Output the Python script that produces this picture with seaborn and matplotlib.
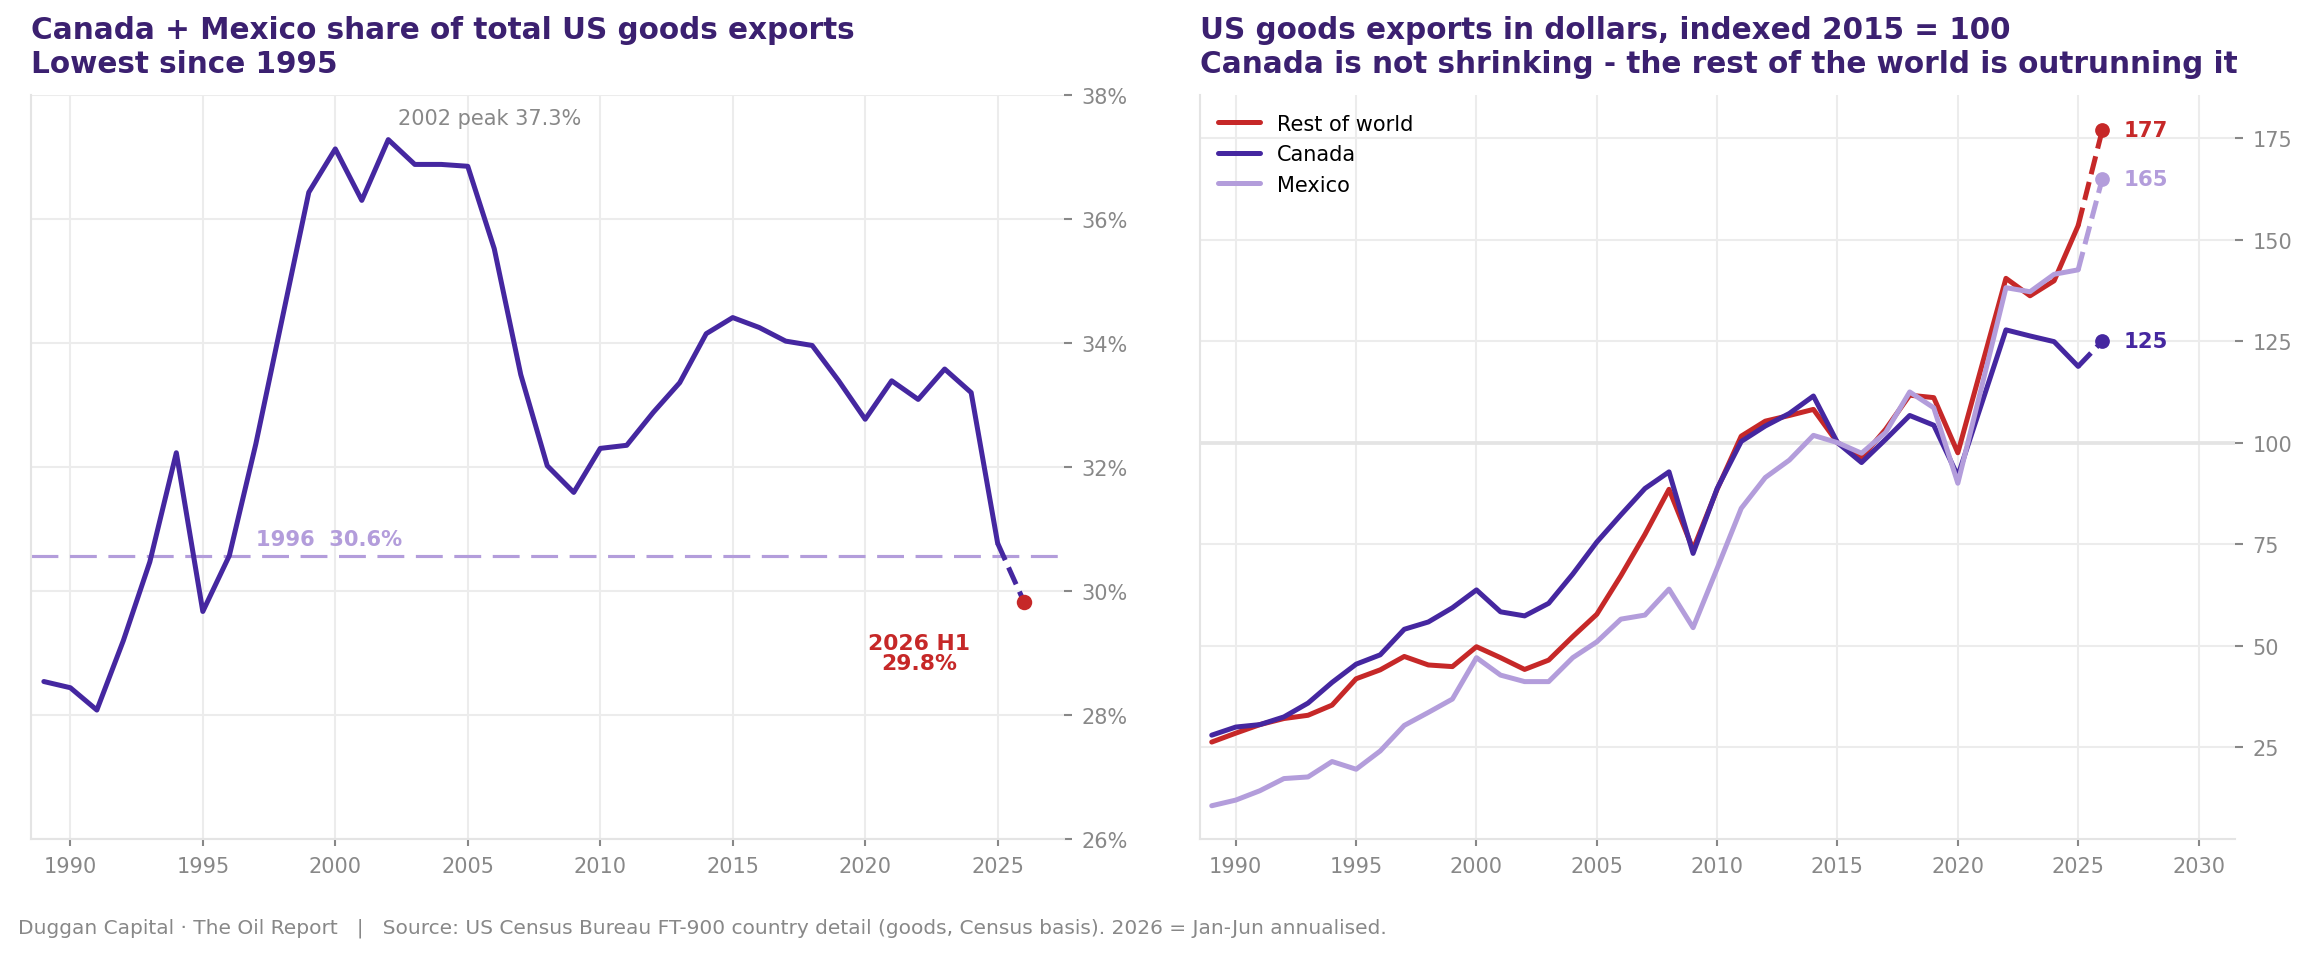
import numpy as np
import pandas as pd
import matplotlib
matplotlib.use('Agg')
import matplotlib.pyplot as plt
import seaborn as sns

years = list(range(1989, 2027))

# Canada + Mexico share of total US goods exports, %
share = [28.54, 28.44, 28.08, 29.2, 30.47, 32.23, 29.67, 30.57, 32.37, 34.4,
         36.43, 37.13, 36.30, 37.28, 36.88, 36.88, 36.85, 35.52, 33.49, 32.02,
         31.59, 32.30, 32.35, 32.88, 33.36, 34.15, 34.41, 34.25, 34.03, 33.96,
         33.39, 32.77, 33.39, 33.09, 33.58, 33.20, 30.77, 29.82]

# goods exports indexed 2015 = 100
rest_of_world = [26.2, 28.4, 30.5, 32.0, 32.8, 35.3, 41.8, 44.0, 47.3, 45.2,
                 44.8, 49.7, 47.0, 44.1, 46.4, 52.2, 57.7, 67.2, 77.4, 88.5,
                 73.7, 88.5, 101.6, 105.3, 106.7, 108.2, 100.0, 96.3, 103.3, 111.7,
                 111.1, 97.5, 119.0, 140.5, 136.2, 139.9, 153.5, 177.0]
canada = [27.9, 29.9, 30.5, 32.4, 35.8, 40.9, 45.4, 47.7, 54.0, 55.8,
          59.3, 63.7, 58.3, 57.3, 60.4, 67.6, 75.5, 82.2, 88.7, 92.8,
          72.7, 88.7, 100.3, 104.1, 107.2, 111.5, 100.0, 95.1, 100.8, 106.7,
          104.3, 91.8, 109.8, 127.8, 126.3, 124.9, 118.8, 125.0]
mexico = [10.5, 11.9, 14.2, 17.2, 17.6, 21.4, 19.5, 24.0, 30.3, 33.5,
          36.8, 47.0, 42.7, 41.1, 41.1, 47.0, 50.9, 56.5, 57.5, 63.9,
          54.4, 69.0, 83.8, 91.4, 95.7, 101.8, 100.0, 97.4, 102.5, 112.5,
          108.6, 90.0, 114.0, 138.2, 137.2, 141.5, 142.6, 165.0]

series_names = ['Rest of world', 'Canada', 'Mexico']

DARK = '#4527a0'
LIGHT = '#b39ddb'
RED = '#c62828'
TITLE = '#3b2070'
GREY = '#888888'
GRID = '#ececec'
SPINE = '#e4e4e4'
colors = {'Rest of world': RED, 'Canada': DARK, 'Mexico': LIGHT}

sns.set_theme(style='whitegrid')
plt.rcParams['font.family'] = ['DejaVu Sans']

fig = plt.figure(figsize=(2308 / 150, 955 / 150), dpi=150)
ax1 = fig.add_axes([0.01326, 0.1204, 0.4477, 0.7791])
ax2 = fig.add_axes([0.5198, 0.1204, 0.4484, 0.7791])

# ---- left: share ----
df_share = pd.DataFrame({'year': years, 'share': share})
solid = df_share[df_share.year <= 2025]
tail = df_share[df_share.year >= 2025]
sns.lineplot(data=solid, x='year', y='share', ax=ax1, color=DARK, lw=2.4, zorder=3)
sns.lineplot(data=tail, x='year', y='share', ax=ax1, color=DARK, lw=2.4,
             linestyle='--', zorder=3)
last = tail.iloc[-1]
ax1.scatter([last.year], [last.share], s=55, color=RED, zorder=4, linewidths=0)

v96 = share[years.index(1996)]
ax1.axhline(v96, color=LIGHT, lw=1.5, linestyle=(0, (8.6, 3.7)), zorder=2)
ax1.text(1997, v96 + 0.11, f'1996  {v96:.1f}%', color=LIGHT, fontsize=10.1,
         fontweight='bold', ha='left', va='bottom')

peak_i = int(np.argmax(share))
ax1.text(2002.35, 37.53, f'{years[peak_i]} peak {share[peak_i]:.1f}%', color=GREY,
         fontsize=10, ha='left', va='baseline')
ax1.text(2022.05, 29.0, f'{int(last.year)} H1\n{last.share:.1f}%', color=RED,
         fontsize=10.5, fontweight='bold', ha='center', va='center',
         multialignment='center', linespacing=1.05)

ax1.set_xlim(1988.5, 2027.5)
ax1.set_ylim(26, 38)
ax1.set_xticks(range(1990, 2026, 5))
ax1.set_yticks(range(26, 39, 2))
ax1.set_yticklabels([f'{t}%' for t in range(26, 39, 2)])
ax1.set_title('Canada + Mexico share of total US goods exports\nLowest since 1995',
              loc='left', fontsize=14.2, fontweight='bold', color=TITLE, pad=11)

# ---- right: indexed dollars ----
df_idx = pd.DataFrame({'year': years, 'Rest of world': rest_of_world,
                       'Canada': canada, 'Mexico': mexico})
for name in series_names:
    d = df_idx[df_idx.year <= 2025]
    sns.lineplot(data=d, x='year', y=name, ax=ax2, color=colors[name], lw=2.4,
                 label=name, zorder=3)
for name in series_names:
    d = df_idx[df_idx.year >= 2025]
    sns.lineplot(data=d, x='year', y=name, ax=ax2, color=colors[name], lw=2.4,
                 linestyle='--', zorder=3)
    end = d.iloc[-1]
    ax2.scatter([end.year], [end[name]], s=50, color=colors[name], zorder=4,
                linewidths=0)
    ax2.text(end.year + 0.9, end[name], f'{end[name]:.0f}', color=colors[name],
             fontsize=10.2, fontweight='bold', ha='left', va='center')

ax2.axhline(100, color=SPINE, lw=1.8, zorder=1)
ax2.set_xlim(1988.5, 2031.5)
ax2.set_ylim(2.3, 185.7)
ax2.set_xticks(range(1990, 2031, 5))
ax2.set_yticks(range(25, 176, 25))
leg = ax2.legend(loc='upper left', frameon=False, fontsize=10)
for t in leg.get_texts():
    t.set_color('black')
ax2.set_title('US goods exports in dollars, indexed 2015 = 100\n'
              'Canada is not shrinking - the rest of the world is outrunning it',
              loc='left', fontsize=14.2, fontweight='bold', color=TITLE, pad=11)

for ax in (ax1, ax2):
    ax.set_xlabel('')
    ax.set_ylabel('')
    ax.yaxis.tick_right()
    ax.grid(True, color=GRID, lw=1.0)
    ax.set_axisbelow(True)
    for s in ('top', 'right'):
        ax.spines[s].set_visible(False)
    for s in ('left', 'bottom'):
        ax.spines[s].set_color(SPINE)
        ax.spines[s].set_linewidth(1.0)
    ax.tick_params(axis='x', bottom=True, length=3.5, width=1, color=GREY,
                   labelcolor=GREY, labelsize=10, pad=4.5)
    ax.tick_params(axis='y', right=True, left=False, length=4, width=1, color=GREY,
                   labelcolor=GREY, labelsize=10, pad=4.5)

fig.text(0.0078, 0.028,
         'Duggan Capital \u00b7 The Oil Report   |   Source: US Census Bureau FT-900 '
         'country detail (goods, Census basis). 2026 = Jan-Jun annualised.',
         fontsize=9.7, color=GREY, ha='left', va='center')

fig.savefig('out.png', dpi=150)
